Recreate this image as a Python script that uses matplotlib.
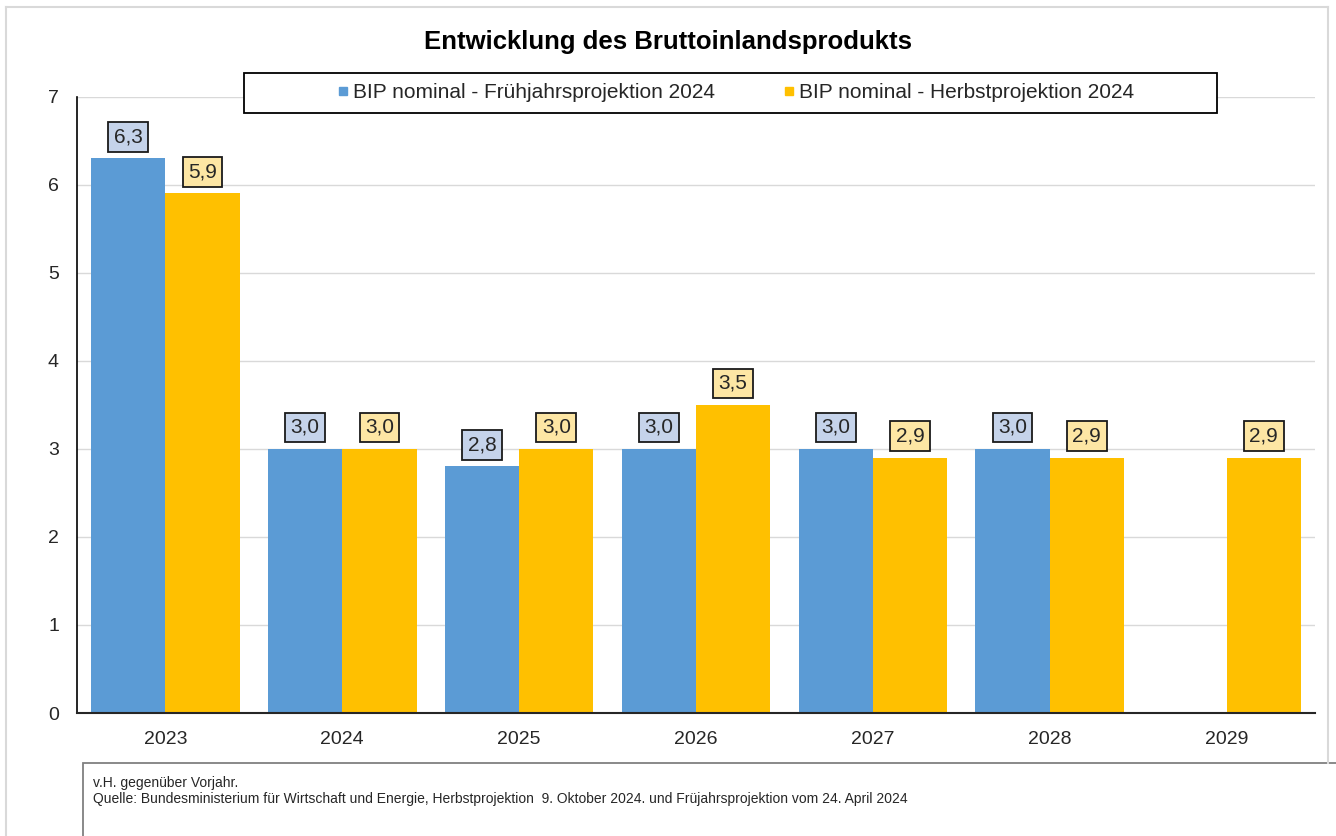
import matplotlib
matplotlib.use("Agg")
import matplotlib.pyplot as plt
import numpy as np
from matplotlib.lines import Line2D
from matplotlib.patches import Rectangle

# data
years = ["2023", "2024", "2025", "2026", "2027", "2028", "2029"]
fruehjahr = [6.3, 3.0, 2.8, 3.0, 3.0, 3.0, np.nan]
herbst = [5.9, 3.0, 3.0, 3.5, 2.9, 2.9, 2.9]
series_names = ["BIP nominal - Frühjahrsprojektion 2024",
                "BIP nominal - Herbstprojektion 2024"]
title = "Entwicklung des Bruttoinlandsprodukts"
note_lines = ["v.H. gegenüber Vorjahr.",
              "Quelle: Bundesministerium für Wirtschaft und Energie, Herbstprojektion  9. Oktober 2024. "
              "und Früjahrsprojektion vom 24. April 2024"]

BLUE = "#5b9bd5"
YELLOW = "#ffc000"
BLUE_BOX = "#c5d3ea"
YELLOW_BOX = "#fde6a4"
TXT = "#262626"

plt.rcParams["font.family"] = ["Liberation Sans", "DejaVu Sans"]

W, H = 1336, 836
fig = plt.figure(figsize=(W / 100, H / 100), dpi=100)


def fx(px):
    return px / W


def fy(py):
    return 1 - py / H


# outer chart frame (light grey) and footnote box
fig.add_artist(Line2D([fx(6), fx(6)], [fy(7), fy(836)], color="#d9d9d9", lw=1.5))
fig.add_artist(Line2D([fx(6), fx(1328)], [fy(7), fy(7)], color="#d9d9d9", lw=1.5))
fig.add_artist(Line2D([fx(1328), fx(1328)], [fy(7), fy(763)], color="#d9d9d9", lw=1.5))
fig.add_artist(Rectangle((fx(83), fy(840)), fx(1340 - 83), fy(763) - fy(840),
                         facecolor="white", edgecolor="#808080", lw=1.3))

ax_left, ax_right, ax_top, ax_bottom = 77, 1315, 96.5, 713
ax = fig.add_axes([fx(ax_left), fy(ax_bottom), fx(ax_right - ax_left), fy(ax_top) - fy(ax_bottom)])

x = np.arange(len(years))
bw = 0.42
ax.bar(x - bw / 2, fruehjahr, width=bw, color=BLUE, zorder=2)
ax.bar(x + bw / 2, herbst, width=bw, color=YELLOW, zorder=2)

for xs, vals, box in [(x - bw / 2, fruehjahr, BLUE_BOX), (x + bw / 2, herbst, YELLOW_BOX)]:
    for xi, v in zip(xs, vals):
        if np.isnan(v):
            continue
        ax.annotate(f"{v:.1f}".replace(".", ","), (xi, v), xytext=(0, 8.5),
                    textcoords="offset points", ha="center", va="bottom",
                    fontsize=15, color=TXT, zorder=4,
                    bbox=dict(boxstyle="square,pad=0.26", fc=box, ec="#1a1a1a", lw=1.3))

ax.set_xlim(-0.5, len(years) - 0.5)
ax.set_ylim(0, 7)
ax.set_yticks(range(0, 8))
ax.set_xticks(x)
ax.set_xticklabels(years)
ax.tick_params(axis="both", length=0, labelsize=14, colors=TXT)
ax.tick_params(axis="y", pad=13)
ax.tick_params(axis="x", pad=13)
ax.grid(axis="y", color="#d9d9d9", lw=1, zorder=0)
ax.set_axisbelow(True)
for s in ["top", "right"]:
    ax.spines[s].set_visible(False)
ax.spines["left"].set_color("#000000")
ax.spines["left"].set_linewidth(1.2)
ax.spines["bottom"].set_color("#262626")
ax.spines["bottom"].set_linewidth(1.5)

# title
fig.text(fx(668), fy(42), title, ha="center", va="center",
         fontsize=18.5, fontweight="bold", color="#000000")

# legend with a black box
fig.add_artist(Rectangle((fx(244), fy(113)), fx(1217 - 244), fy(73) - fy(113),
                         facecolor="white", edgecolor="#000000", lw=1.3, zorder=5))
handles = [Line2D([], [], marker="s", ls="none", color=BLUE, markersize=5.5),
           Line2D([], [], marker="s", ls="none", color=YELLOW, markersize=5.5)]
leg = fig.legend(handles, series_names, loc="center", bbox_to_anchor=(fx(736), fy(93)),
                 ncol=2, frameon=False, fontsize=15, handlelength=0.5,
                 handletextpad=0.25, columnspacing=3.3, labelcolor=TXT)
leg.set_zorder(6)

# footnote (baselines)
fig.text(fx(93), fy(787), note_lines[0], ha="left", va="baseline", fontsize=10, color=TXT)
fig.text(fx(93), fy(803), note_lines[1], ha="left", va="baseline", fontsize=10, color=TXT)

fig.savefig("out.png", dpi=100, facecolor="white")
